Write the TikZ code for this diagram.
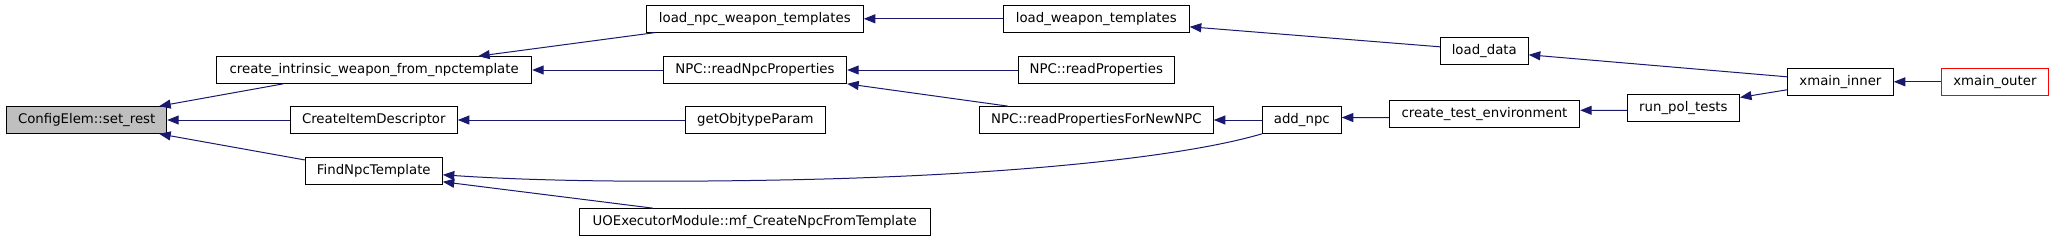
\documentclass[tikz,border=0pt]{standalone}
\usepackage{fontspec}
\setmainfont{DejaVu Sans}
\usetikzlibrary{arrows.meta,calc}
\definecolor{edgec}{HTML}{191970}
\definecolor{curfill}{HTML}{BFBFBF}
\begin{document}
\begin{tikzpicture}[x=1bp,y=-1bp,
  fn/.style={draw=black,line width=1bp,inner sep=0pt,minimum height=26.7bp,
    font=\fontsize{13.3bp}{16bp}\selectfont,text=black,fill=white},
  cur/.style={fn,fill=curfill},
  root/.style={fn,draw=red},
  edge/.style={draw=edgec,line width=1bp,-{Triangle[length=11.5bp,width=9bp]}}]
\useasboundingbox[fill=white] (0,0) rectangle (2053,240);
\node[cur,minimum width=160bp]   (setrest) at (86.7,120)  {ConfigElem::set\_rest};
\node[fn,minimum width=315bp]    (cwi)     at (374.2,70)  {create\_intrinsic\_weapon\_from\_npctemplate};
\node[fn,minimum width=167bp]    (cid)     at (373.8,120) {CreateItemDescriptor};
\node[fn,minimum width=137bp]    (fnt)     at (373.8,170.8) {FindNpcTemplate};
\node[fn,minimum width=217bp]    (lnwt)    at (754.8,18.8) {load\_npc\_weapon\_templates};
\node[fn,minimum width=183.4bp]  (rnp)     at (755,70)    {NPC::readNpcProperties};
\node[fn,minimum width=140bp]    (gop)     at (755.3,120) {getObjtypeParam};
\node[fn,minimum width=350.7bp]  (uoe)     at (754.7,222) {UOExecutorModule::mf\_CreateNpcFromTemplate};
\node[fn,minimum width=186bp]    (lwt)     at (1096.3,18.8) {load\_weapon\_templates};
\node[fn,minimum width=156bp]    (rp)      at (1096.3,70) {NPC::readProperties};
\node[fn,minimum width=233.8bp]  (rpfn)    at (1096.4,120) {NPC::readPropertiesForNewNPC};
\node[fn,minimum width=79bp]     (addnpc)  at (1301.8,120) {add\_npc};
\node[fn,minimum width=190.4bp]  (cte)     at (1484.5,113.7) {create\_test\_environment};
\node[fn,minimum width=88bp]     (ld)      at (1484.3,50.8) {load\_data};
\node[fn,minimum width=112.2bp]  (rpt)     at (1683.4,108.3) {run\_pol\_tests};
\node[fn,minimum width=105.8bp]  (xi)      at (1840.4,81.8) {xmain\_inner};
\node[root,minimum width=107.2bp](xo)      at (1994.9,81.8) {xmain\_outer};

\draw[edge] ($(cwi.south west)+(67,0)$) -- ($(setrest.north east)+(-8,0)$);
\draw[edge] (cid.west) -- (setrest.east);
\draw[edge] ($(fnt.north west)+(0,3)$) -- ($(setrest.south east)+(-8,0)$);
\draw[edge] ($(lnwt.south west)+(9,0)$) -- ($(cwi.north east)+(-54,0)$);
\draw[edge] (rnp.west) -- (cwi.east);
\draw[edge] (gop.west) -- (cid.east);
\draw[edge] (lwt.west) -- (lnwt.east);
\draw[edge] (rp.west) -- (rnp.east);
\draw[edge] ($(rpfn.north west)+(29,0)$) -- (rnp.south east);
\draw[edge] (addnpc.west) -- (rpfn.east);
\draw[edge] ($(ld.west)+(0,-4)$) -- ($(lwt.east)+(0,8)$);
\draw[edge] ($(cte.west)+(0,4)$) -- ($(addnpc.east)+(0,-2.5)$);
\draw[edge] ($(xi.west)+(0,-5)$) -- ($(ld.east)+(0,4)$);
\draw[edge] ($(rpt.west)+(0,2)$) -- ($(cte.east)+(0,-3.4)$);
\draw[edge] ($(xi.west)+(0,8)$) -- ($(rpt.north east)+(0,3)$);
\draw[edge] (xo.west) -- (xi.east);
\draw[edge] ($(uoe.north west)+(74,0)$) -- ($(fnt.east)+(0,11)$);
\draw[edge] (addnpc.south west) .. controls (1180,158) and (1000,176) .. (780,180)
  .. controls (620,183) and (520,180) .. ($(fnt.east)+(0,4)$);
\end{tikzpicture}
\end{document}
